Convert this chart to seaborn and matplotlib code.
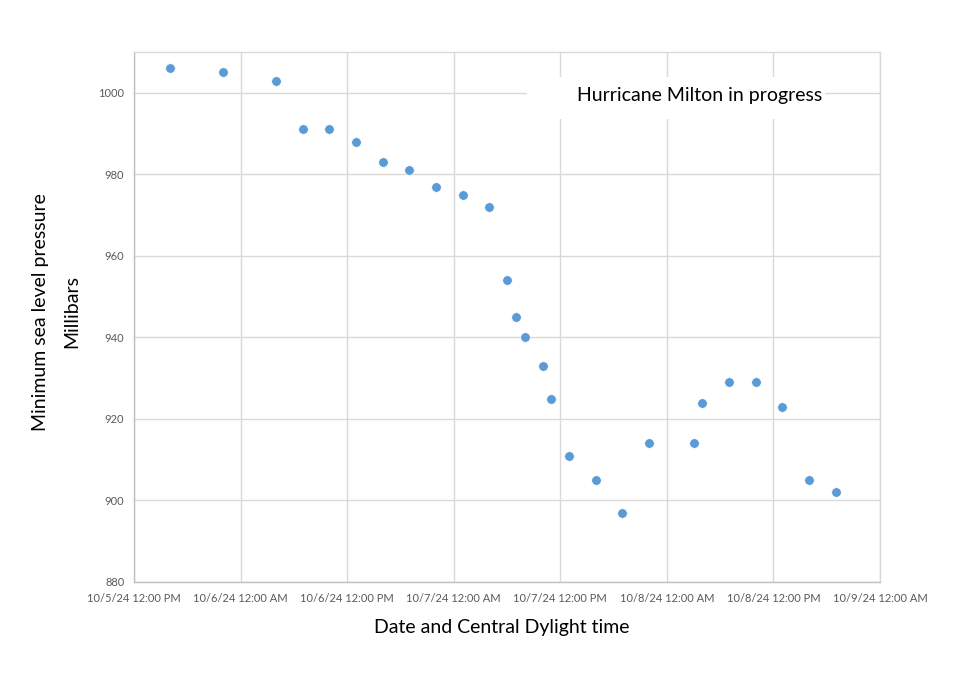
import matplotlib
matplotlib.use("Agg")
import matplotlib.pyplot as plt
import matplotlib.dates as mdates
from matplotlib.patches import Rectangle
import seaborn as sns
import pandas as pd

# Data: observation times (CDT) and minimum sea level pressure (mb)
times = [
    "2024-10-05 16:00", "2024-10-05 22:00", "2024-10-06 04:00", "2024-10-06 07:00",
    "2024-10-06 10:00", "2024-10-06 13:00", "2024-10-06 16:00", "2024-10-06 19:00",
    "2024-10-06 22:00", "2024-10-07 01:00", "2024-10-07 04:00", "2024-10-07 06:00",
    "2024-10-07 07:00", "2024-10-07 08:00", "2024-10-07 10:00", "2024-10-07 11:00",
    "2024-10-07 13:00", "2024-10-07 16:00", "2024-10-07 19:00", "2024-10-07 22:00",
    "2024-10-08 03:00", "2024-10-08 04:00", "2024-10-08 07:00", "2024-10-08 10:00",
    "2024-10-08 13:00", "2024-10-08 16:00", "2024-10-08 19:00",
]
pressure = [1006, 1005, 1003, 991, 991, 988, 983, 981, 977, 975, 972, 954,
            945, 940, 933, 925, 911, 905, 897, 914, 914, 924, 929, 929, 923, 905, 902]
tick_times = ["2024-10-05 12:00", "2024-10-06 00:00", "2024-10-06 12:00", "2024-10-07 00:00",
              "2024-10-07 12:00", "2024-10-08 00:00", "2024-10-08 12:00", "2024-10-09 00:00"]
tick_labels = ["10/5/24 12:00 PM", "10/6/24 12:00 AM", "10/6/24 12:00 PM", "10/7/24 12:00 AM",
               "10/7/24 12:00 PM", "10/8/24 12:00 AM", "10/8/24 12:00 PM", "10/9/24 12:00 AM"]
y_ticks = [880, 900, 920, 940, 960, 980, 1000]

df = pd.DataFrame({"time": pd.to_datetime(times), "pressure": pressure})

sns.set_theme(style="white")
plt.rcParams["font.family"] = ["Lato", "DejaVu Sans"]

W, H = 960, 681
fig = plt.figure(figsize=(9.6, 6.81), dpi=100)
ax = fig.add_axes([134/W, 1-582/H, (880-134)/W, (582-52)/H])

sns.scatterplot(data=df, x="time", y="pressure", ax=ax, color="#5B9BD5",
                s=48, edgecolor="white", linewidth=0.5, zorder=3)

tt = pd.to_datetime(tick_times)
ax.set_xlim(tt[0], tt[-1])
ax.set_ylim(880, 1010)
ax.set_xticks(mdates.date2num(tt))
ax.set_xticklabels(tick_labels)
ax.set_yticks(y_ticks)
ax.set_yticklabels([str(v) for v in y_ticks])

ax.grid(True, color="#d9d9d9", linewidth=1)
ax.set_axisbelow(True)
for sp in ax.spines.values():
    sp.set_color("#d9d9d9")
    sp.set_linewidth(1)
ax.spines["left"].set_color("#bfbfbf")
ax.spines["bottom"].set_color("#bfbfbf")

ax.tick_params(axis="both", length=0, labelsize=8, colors="#595959", pad=7)
ax.tick_params(axis="x", pad=8)

ax.set_xlabel("")
ax.set_ylabel("")
fig.text(502/W, 1-628/H, "Date and Central Dylight time", fontsize=14,
         color="black", ha="center", va="center")
fig.text(56/W, 1-312/H, "Minimum sea level pressure\nMillibars", fontsize=14,
         color="black", ha="center", va="center", rotation=90, linespacing=2.0,
         multialignment="center")

# white box behind the in-chart title
fig.add_artist(Rectangle((527/W, 1-119/H), (825-527)/W, (119-77)/H,
                         transform=fig.transFigure, facecolor="white",
                         edgecolor="none", zorder=2))
fig.text(700/W, 1-95/H, "Hurricane Milton in progress", fontsize=14,
         color="black", ha="center", va="center", zorder=3)

fig.savefig("out.png", dpi=100, facecolor="white")
